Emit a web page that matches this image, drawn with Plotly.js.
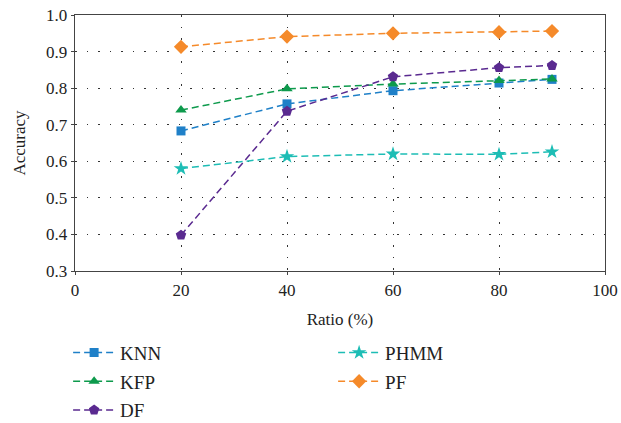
<!DOCTYPE html>
<html>
<head>
<meta charset="utf-8">
<script src="https://cdn.plot.ly/plotly-3.0.1.min.js"></script>
<style>html,body{margin:0;padding:0;background:#fff;}#chart{width:621px;height:423px;}</style>
</head>
<body>
<div id="chart"></div>
<script>
var ratio = [20, 40, 60, 80, 90];
var knn  = [0.683, 0.757, 0.793, 0.814, 0.824];
var kfp  = [0.740, 0.798, 0.811, 0.821, 0.825];
var df   = [0.398, 0.737, 0.831, 0.856, 0.862];
var phmm = [0.580, 0.613, 0.620, 0.619, 0.626];
var pf   = [0.913, 0.941, 0.950, 0.953, 0.956];
var xTicks = [0, 20, 40, 60, 80, 100];
var yTicks = [0.3, 0.4, 0.5, 0.6, 0.7, 0.8, 0.9, 1.0];
var yTickText = ['0.3','0.4','0.5','0.6','0.7','0.8','0.9','1.0'];

var dashPat = '7px,4px';
function tr(name, y, color, symbol, size, legend, group) {
  return {
    x: ratio, y: y, name: name, type: 'scatter', mode: 'lines+markers',
    line: {color: color, width: 1.5, dash: dashPat},
    marker: {color: color, symbol: symbol, size: size},
    legend: legend, legendgroup: group
  };
}
var data = [
  tr('KNN', knn, '#1f80c8', 'square', 9, 'legend', 'a'),
  tr('KFP', kfp, '#0d9a4c', 'triangle-up', 10, 'legend', 'b'),
  tr('DF', df, '#5a2a90', 'pentagon', 11, 'legend', 'c'),
  tr('PHMM', phmm, '#1dbdb5', 'star', 11, 'legend2', 'd'),
  tr('PF', pf, '#f58a2a', 'diamond', 11, 'legend2', 'e')
];

var fontFam = 'Liberation Serif, Times New Roman, serif';
var layout = {
  width: 621, height: 423,
  margin: {l: 75, r: 16, t: 15, b: 152, autoexpand: false},
  paper_bgcolor: '#fff', plot_bgcolor: '#fff',
  font: {family: fontFam, size: 17, color: '#222'},
  xaxis: {
    range: [0, 100], tickvals: xTicks, ticktext: xTicks.map(String),
    tickfont: {family: fontFam, size: 17, color: '#222'},
    showline: true, mirror: true, linecolor: '#444', linewidth: 1.3,
    ticks: 'outside', ticklen: 3, tickcolor: '#444',
    showgrid: true, gridcolor: '#333', gridwidth: 1, griddash: '1.5px,10px',
    zeroline: false, automargin: false,
    title: {text: 'Ratio (%)', font: {family: fontFam, size: 17, color: '#222'}, standoff: 14}
  },
  yaxis: {
    range: [0.3, 1.0], tickvals: yTicks, ticktext: yTickText,
    tickfont: {family: fontFam, size: 17, color: '#222'},
    showline: true, mirror: true, linecolor: '#444', linewidth: 1.3,
    ticks: 'outside', ticklen: 3, tickcolor: '#444',
    showgrid: true, gridcolor: '#333', gridwidth: 1, griddash: '1.5px,10px',
    zeroline: false, automargin: false,
    title: {text: 'Accuracy', font: {family: fontFam, size: 17, color: '#222'}, standoff: 16}
  },
  legend: {
    x: -0.013, y: -0.245, xanchor: 'left', yanchor: 'top',
    orientation: 'v', tracegroupgap: 1, itemwidth: 42, bgcolor: 'rgba(0,0,0,0)',
    font: {family: fontFam, size: 19, color: '#222'}
  },
  legend2: {
    x: 0.487, y: -0.245, xanchor: 'left', yanchor: 'top',
    orientation: 'v', tracegroupgap: 1, itemwidth: 42, bgcolor: 'rgba(0,0,0,0)',
    font: {family: fontFam, size: 19, color: '#222'}
  },
  showlegend: true
};
Plotly.newPlot('chart', data, layout, {displayModeBar: false, staticPlot: true});
</script>
</body>
</html>
